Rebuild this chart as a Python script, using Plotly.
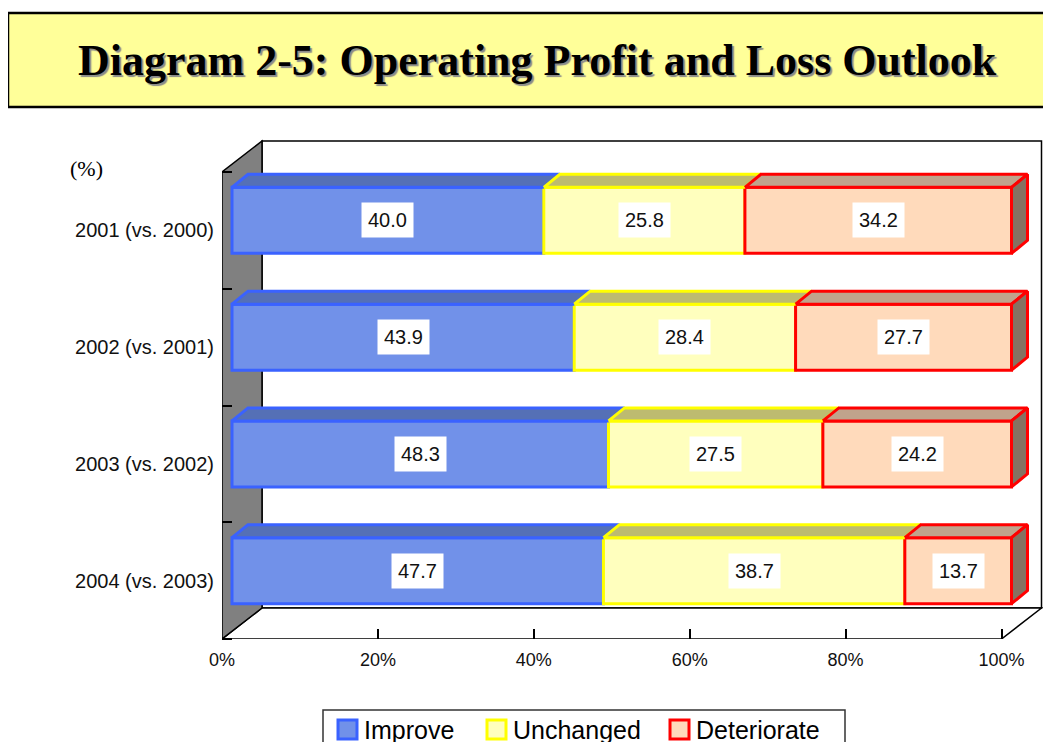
import plotly.graph_objects as go

# ---------------- data ----------------
categories = ["2001 (vs. 2000)", "2002 (vs. 2001)", "2003 (vs. 2002)", "2004 (vs. 2003)"]
improve = [40.0, 43.9, 48.3, 47.7]
unchanged = [25.8, 28.4, 27.5, 38.7]
deteriorate = [34.2, 27.7, 24.2, 13.7]
series_names = ["Improve", "Unchanged", "Deteriorate"]
x_ticks = [0, 20, 40, 60, 80, 100]
x_tick_labels = ["0%", "20%", "40%", "60%", "80%", "100%"]

# ---------------- styles ----------------
front_fill = ["#7191E9", "#FFFFBE", "#FFDABB"]
edge_col = ["#3A62FF", "#FFFF00", "#FF0000"]
top_fill = ["#5570B6", "#BDBB70", "#C0A38C"]
side_fill = ["#5570B6", "#8A8A50", "#857262"]

W, H = 1051, 742
OFF = 8               # page body margin
L, R, T, B = 214, 13, 128, 111
PW, PH = W - L - R, H - T - B
PX = 7.795            # px per percent
PY = 116.75           # px per category step
XMAX = PW / PX
YBOT = 3.5
YTOP = YBOT - PH / PY

# 3-D offsets in px (right, down)
WALL = (40, -31)
FRONT = (10, -10)
DEPTH = (16, -13)
HALF = 33


def ox(px):
    return px / PX


def oy(px):
    return px / PY


def px_paper_x(px):
    return (px - OFF - L) / PW


def px_paper_y(py):
    return (H - B - (py - OFF)) / PH


fig = go.Figure()

# walls (decoration)
lw = [(0, YBOT), (0, -0.5), (ox(WALL[0]), -0.5 + oy(WALL[1])), (ox(WALL[0]), YBOT + oy(WALL[1]))]
back = [(ox(WALL[0]), -0.5 + oy(WALL[1])), (100 + ox(WALL[0]), -0.5 + oy(WALL[1])),
        (100 + ox(WALL[0]), YBOT + oy(WALL[1])), (ox(WALL[0]), YBOT + oy(WALL[1]))]
floor = [(0, YBOT), (100, YBOT), (100 + ox(WALL[0]), YBOT + oy(WALL[1])), (ox(WALL[0]), YBOT + oy(WALL[1]))]


def path(pts):
    return "M " + " L ".join(f"{x},{y}" for x, y in pts) + " Z"


for pts, fill in [(back, "white"), (floor, "white"), (lw, "#808080")]:
    fig.add_shape(type="path", path=path(pts), xref="x", yref="y", fillcolor=fill,
                  line=dict(color="black", width=1.5), layer="below")

# bars
values = [improve, unchanged, deteriorate]
n = len(categories)
ycen = [i + oy(FRONT[1]) for i in range(n)]
totals = [sum(v[i] for v in values) for i in range(n)]
norm = [[v[i] / totals[i] * 100 for i in range(n)] for v in values]
bases = []
for i in range(n):
    acc = 0
    row = []
    for s in range(3):
        row.append(acc)
        acc += norm[s][i]
    bases.append(row)

for s in range(3):
    fig.add_trace(go.Bar(
        orientation="h", y=ycen, x=norm[s],
        base=[bases[i][s] + ox(FRONT[0]) for i in range(n)],
        width=oy(2 * HALF), name=series_names[s],
        marker=dict(color=front_fill[s], line=dict(color=edge_col[s], width=3)),
        hoverinfo="skip", showlegend=False))

# top and side faces
for i in range(n):
    y0 = ycen[i] - oy(HALF)
    y1 = ycen[i] + oy(HALF)
    for s in range(3):
        x0 = bases[i][s] + ox(FRONT[0])
        x1 = x0 + norm[s][i]
        xs = [x0, x1, x1 + ox(DEPTH[0]), x0 + ox(DEPTH[0]), x0]
        ys = [y0, y0, y0 + oy(DEPTH[1]), y0 + oy(DEPTH[1]), y0]
        fig.add_trace(go.Scatter(x=xs, y=ys, fill="toself", fillcolor=top_fill[s], mode="lines",
                                 line=dict(color=edge_col[s], width=3), hoverinfo="skip", showlegend=False))
        if s == 2:
            xs = [x1, x1, x1 + ox(DEPTH[0]), x1 + ox(DEPTH[0]), x1]
            ys = [y0, y1, y1 + oy(DEPTH[1]), y0 + oy(DEPTH[1]), y0]
            fig.add_trace(go.Scatter(x=xs, y=ys, fill="toself", fillcolor=side_fill[s], mode="lines",
                                     line=dict(color=edge_col[s], width=3), hoverinfo="skip", showlegend=False))

annotations = []
for i in range(n):
    for s in range(3):
        annotations.append(dict(
            x=bases[i][s] + ox(FRONT[0]) + norm[s][i] / 2, y=ycen[i], xref="x", yref="y",
            xanchor="center", yanchor="middle",
            text=f"{values[s][i]:.1f}", showarrow=False, bgcolor="white", borderpad=6,
            font=dict(family="Liberation Sans, Arial", size=20, color="#111111")))

# title box
fig.add_shape(type="rect", xref="paper", yref="paper",
              x0=px_paper_x(8), x1=px_paper_x(1065), y0=px_paper_y(107), y1=px_paper_y(13),
              fillcolor="#FFFF99", line=dict(color="black", width=2.5), layer="above")
title = "Diagram 2-5: Operating Profit and Loss Outlook"
annotations.append(dict(x=px_paper_x(537), y=px_paper_y(61), xref="paper", yref="paper", text=f"<b>{title}</b>",
                        xanchor="center", yanchor="middle", showarrow=False,
                        font=dict(family="Liberation Serif, Times New Roman", size=44, color="black",
                                  shadow="2px 2px 1px #8a8a8a")))
annotations.append(dict(x=px_paper_x(86), y=px_paper_y(168), xref="paper", yref="paper", text="(%)",
                        xanchor="center", yanchor="middle", showarrow=False,
                        font=dict(family="Liberation Serif, Times New Roman", size=22, color="black")))

# manual legend
fig.add_shape(type="rect", xref="paper", yref="paper",
              x0=px_paper_x(323), x1=px_paper_x(845), y0=px_paper_y(770), y1=px_paper_y(710),
              fillcolor="white", line=dict(color="#333333", width=1.5))
leg_x = [338, 487, 670]
for s in range(3):
    fig.add_shape(type="rect", xref="paper", yref="paper",
                  x0=px_paper_x(leg_x[s]), x1=px_paper_x(leg_x[s] + 19),
                  y0=px_paper_y(739), y1=px_paper_y(720),
                  fillcolor=front_fill[s], line=dict(color=edge_col[s], width=3))
    annotations.append(dict(x=px_paper_x(leg_x[s] + 24), y=px_paper_y(730), xref="paper", yref="paper",
                            xanchor="left", yanchor="middle", text=series_names[s], showarrow=False,
                            font=dict(family="Liberation Sans, Arial", size=25, color="black")))

fig.update_layout(
    width=W, height=H, margin=dict(l=L, r=R, t=T, b=B, autoexpand=False),
    paper_bgcolor="white", plot_bgcolor="rgba(0,0,0,0)",
    barmode="overlay", showlegend=False, hovermode=False,
    annotations=annotations,
    xaxis=dict(range=[0, XMAX], tickvals=x_ticks, ticktext=x_tick_labels, showgrid=False, zeroline=False,
               showline=False, ticks="inside", ticklen=10, tickcolor="black", tickwidth=1.5,
               ticklabelstandoff=8,
               tickfont=dict(family="Liberation Sans, Arial", size=18, color="#111111"), fixedrange=True),
    yaxis=dict(range=[YBOT, YTOP], tickvals=list(range(n)), ticktext=categories, showgrid=False,
               zeroline=False, showline=False, ticks="", ticklabelstandoff=7,
               minor=dict(tick0=-0.5, dtick=1, ticks="inside", ticklen=10, tickcolor="black", tickwidth=1.5),
               tickfont=dict(family="Liberation Sans, Arial", size=20, color="#111111"), fixedrange=True),
)

fig.write_html("out.html")
